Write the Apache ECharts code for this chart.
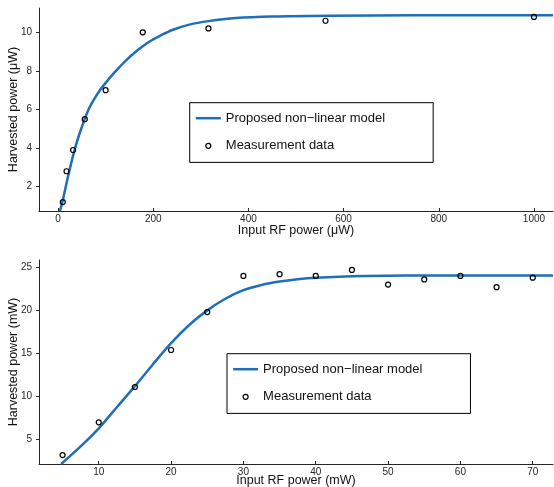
<!DOCTYPE html>
<html><head><meta charset="utf-8">
<script src="https://cdn.jsdelivr.net/npm/echarts@6/dist/echarts.min.js"></script>
<style>html,body{margin:0;padding:0;background:#fff}#c{width:554px;height:487px}</style>
</head><body><div id="c"></div>
<script>
const modelName = 'Proposed non\u2212linear model';
const measName = 'Measurement data';

// Top panel (µW)
const topMeasX = [10, 17.8, 31.6, 56.2, 100, 178, 316, 562, 1000];
const topMeasY = [1.2, 2.8, 3.9, 5.5, 7.0, 10.0, 10.2, 10.6, 10.8];
const topModelX = [4, 10, 18, 25, 32, 40, 48, 56, 65, 75, 88, 100, 115, 130, 143, 160, 178, 195, 213, 240, 276, 316, 374, 450, 570, 750, 1000, 1040];
const topModelY = [0.74, 1.3, 2.2, 2.95, 3.65, 4.35, 4.95, 5.5, 6.05, 6.5, 7.0, 7.38, 7.82, 8.22, 8.55, 8.93, 9.28, 9.56, 9.8, 10.12, 10.4, 10.58, 10.74, 10.82, 10.86, 10.88, 10.88, 10.88];
const topXTicks = [0, 200, 400, 600, 800, 1000];
const topYTicks = [2, 4, 6, 8, 10];

// Bottom panel (mW)
const botMeasX = [5, 10, 15, 20, 25, 30, 35, 40, 45, 50, 55, 60, 65, 70];
const botMeasY = [3.2, 7.0, 11.1, 15.4, 19.8, 24.0, 24.2, 24.0, 24.7, 23.0, 23.6, 24.0, 22.7, 23.8];
const botModelX = [4.8, 7.5, 10, 12.5, 15, 17.5, 20, 22.5, 25, 27.5, 30, 32.5, 35, 37.5, 40, 45, 50, 55, 60, 65, 72.8];
const botModelY = [2.16, 4.2, 6.3, 8.75, 11.2, 13.75, 16.2, 18.3, 20.0, 21.35, 22.35, 22.95, 23.35, 23.62, 23.8, 23.97, 24.03, 24.05, 24.06, 24.06, 24.06];
const botXTicks = [10, 20, 30, 40, 50, 60, 70];
const botYTicks = [5, 10, 15, 20, 25];

const FONT = 'Liberation Sans, Arial, Helvetica, sans-serif';
const AX = '#262626';
const BLUE = '#1f6fb8';

function pairs(xs, ys) { return xs.map((x, i) => [x, ys[i]]); }
const plain = v => String(v);

function xAxis(grid, min, max, ticks, name, gap) {
  return {
    type: 'value', gridIndex: grid, min: min, max: max,
    name: name, nameLocation: 'middle', nameGap: gap, nameMoveOverlap: false,
    nameTextStyle: { fontSize: 12.5, color: '#111', fontFamily: FONT },
    axisLine: { show: true, onZero: false, lineStyle: { color: AX, width: 1 } },
    axisTick: { show: true, inside: true, length: 3, customValues: ticks, lineStyle: { color: AX } },
    axisLabel: { customValues: ticks, formatter: plain, fontSize: 10, margin: 3, color: AX, fontFamily: FONT },
    splitLine: { show: false }
  };
}
function yAxis(grid, min, max, ticks, name) {
  return {
    type: 'value', gridIndex: grid, min: min, max: max,
    name: name, nameLocation: 'middle', nameGap: 19, nameMoveOverlap: false,
    nameTextStyle: { fontSize: 12.5, color: '#111', fontFamily: FONT },
    axisLine: { show: true, onZero: false, lineStyle: { color: AX, width: 1 } },
    axisTick: { show: true, inside: false, length: 3, customValues: ticks, lineStyle: { color: AX } },
    axisLabel: { customValues: ticks, formatter: plain, fontSize: 10, margin: 7, color: AX, fontFamily: FONT },
    splitLine: { show: false }
  };
}
const circleIcon = 'path://M0,0M25,14M15,7A2.5,2.5,0,1,1,10,7A2.5,2.5,0,1,1,15,7Z';
const lineIcon = 'path://M0,0M25,14M0,5.75L25,5.75L25,8.25L0,8.25Z';
function legend(left, top) {
  return {
    left: left, top: top, orient: 'vertical',
    itemWidth: 25, itemHeight: 14, itemGap: 13,
    padding: [8.5, 48, 9, 5.5],
    borderColor: '#000', borderWidth: 1, backgroundColor: '#fff',
    selectedMode: false,
    textStyle: { fontSize: 13, color: '#111', fontFamily: FONT },
    data: [
      { name: modelName, icon: lineIcon, itemStyle: { color: BLUE, borderWidth: 0 } },
      { name: measName, icon: circleIcon, itemStyle: { color: 'rgba(0,0,0,0)', borderColor: '#000', borderWidth: 1.2 } }
    ]
  };
}
function lineSeries(ax, xs, ys) {
  return {
    type: 'line', name: modelName, xAxisIndex: ax, yAxisIndex: ax,
    data: pairs(xs, ys), smooth: 0.3, symbol: 'none', showSymbol: false,
    lineStyle: { color: BLUE, width: 2.5 }, itemStyle: { color: BLUE }, z: 2, animation: false
  };
}
function scatterSeries(ax, xs, ys) {
  return {
    type: 'scatter', name: measName, xAxisIndex: ax, yAxisIndex: ax,
    data: pairs(xs, ys), symbol: 'circle', symbolSize: 5,
    itemStyle: { color: 'rgba(255,255,255,0)', borderColor: '#000', borderWidth: 1.2, opacity: 1 },
    z: 3, animation: false
  };
}

const chart = echarts.init(document.getElementById('c'), null, { renderer: 'canvas' });
chart.setOption({
  backgroundColor: '#fff',
  animation: false,
  grid: [
    { left: 39, top: 8, width: 514, height: 203, containLabel: false, outerBoundsMode: 'none' },
    { left: 39, top: 260, width: 514, height: 204, containLabel: false, outerBoundsMode: 'none' }
  ],
  xAxis: [
    xAxis(0, -40, 1040, topXTicks, 'Input RF power (\u03bcW)', 13.5),
    xAxis(1, 1.74, 72.8, botXTicks, 'Input RF power (mW)', 10)
  ],
  yAxis: [
    yAxis(0, 0.74, 11.26, topYTicks, 'Harvested power (\u03bcW)'),
    yAxis(1, 2.16, 25.85, botYTicks, 'Harvested power (mW)')
  ],
  legend: [legend(189.7, 102.7), legend(227, 353.7)],
  series: [
    lineSeries(0, topModelX, topModelY),
    scatterSeries(0, topMeasX, topMeasY),
    lineSeries(1, botModelX, botModelY),
    scatterSeries(1, botMeasX, botMeasY)
  ]
});
</script>
</body></html>
